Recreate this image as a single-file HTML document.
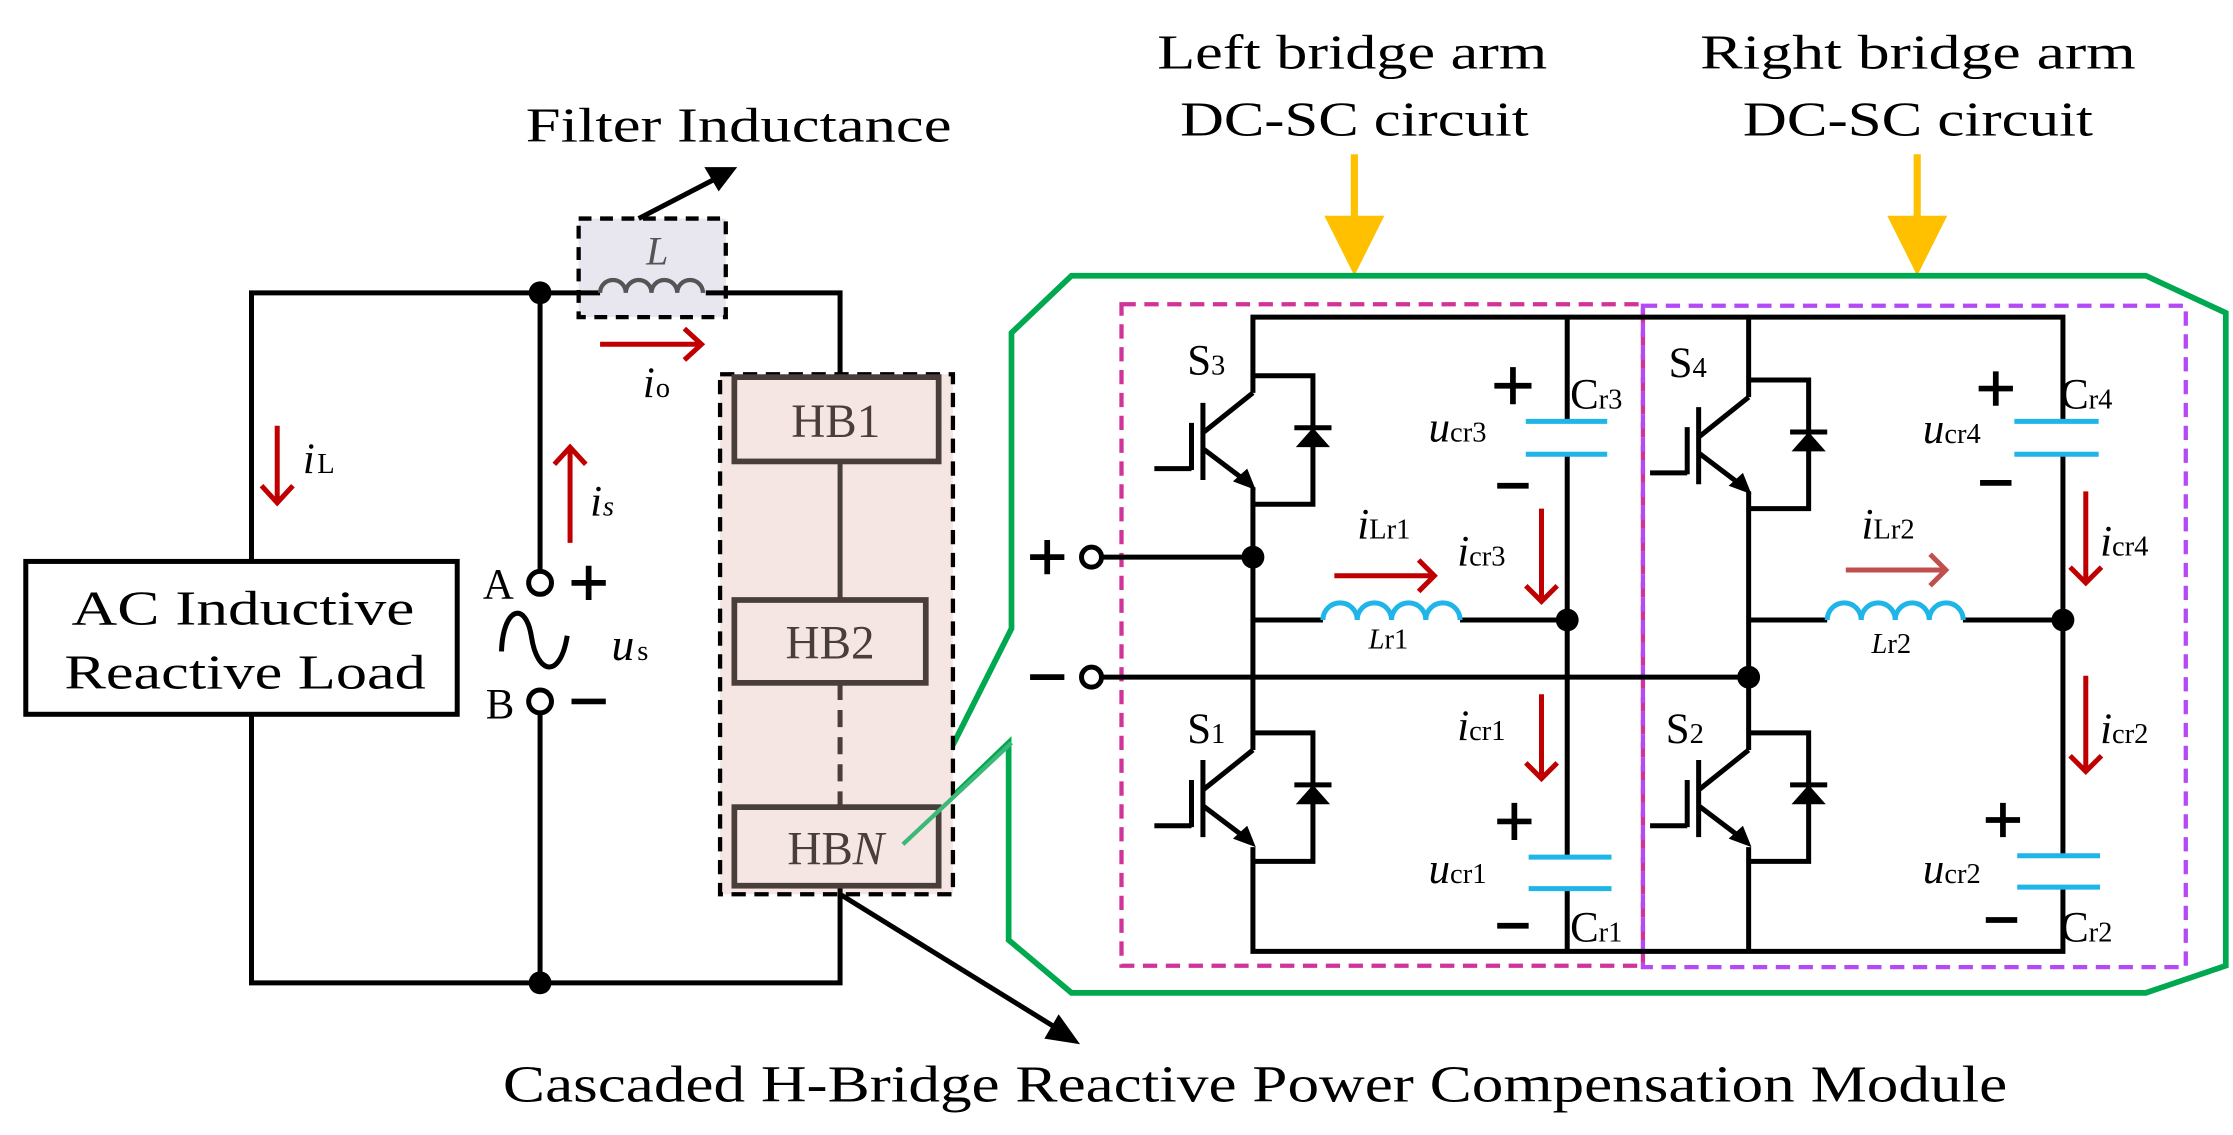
<!DOCTYPE html>
<html><head><meta charset="utf-8"><style>
html,body{margin:0;padding:0;background:#fff;}
svg{display:block;}
text{font-family:"Liberation Serif",serif;}
</style></head><body>
<svg width="2233" height="1135" viewBox="0 0 1563 794.5" xmlns="http://www.w3.org/2000/svg">
<defs>
<g id="igbt">
  <path d="M0,0 L-35,28 M-35,7 V61 M-43,21 V54 M-69,53 H-43 M-35,39 L-2,64" stroke="#000" stroke-width="3.5" fill="none"/>
  <polygon points="2,68 -14,62 -4,53" fill="#000"/>
  <path d="M0,-12 H42 V78 H0" stroke="#000" stroke-width="3.5" fill="none"/>
  <path d="M29,24.4 H55" stroke="#000" stroke-width="3.5"/>
  <polygon points="42,24.4 30,38 54,38" fill="#000"/>
</g>
</defs>

<!-- Titles -->
<text x="810" y="48" font-size="34" textLength="273" lengthAdjust="spacingAndGlyphs">Left bridge arm</text>
<text x="826" y="95" font-size="34" textLength="244" lengthAdjust="spacingAndGlyphs">DC-SC circuit</text>
<text x="1190" y="48" font-size="34" textLength="305" lengthAdjust="spacingAndGlyphs">Right bridge arm</text>
<text x="1220" y="95" font-size="34" textLength="245" lengthAdjust="spacingAndGlyphs">DC-SC circuit</text>
<text x="368" y="99" font-size="34" textLength="298" lengthAdjust="spacingAndGlyphs">Filter Inductance</text>
<text x="352" y="771" font-size="36" textLength="1053" lengthAdjust="spacingAndGlyphs">Cascaded H-Bridge Reactive Power Compensation Module</text>

<!-- yellow arrows -->
<g fill="#ffc000" stroke="#ffc000">
<path d="M948,108 V155" stroke-width="5"/>
<polygon points="927,151 969,151 948,193" stroke="none"/>
<path d="M1342,108 V155" stroke-width="5"/>
<polygon points="1321,151 1363,151 1342,193" stroke="none"/>
</g>

<!-- green module outline -->
<path d="M708,440 V233 L750,193 H1502 L1558,219 V676 L1502,695 H750 L706,658 V520 L632,591 Z" fill="none" stroke="#00a84f" stroke-width="4" stroke-linejoin="miter"/>

<!-- left circuit -->
<rect x="405" y="153" width="103" height="69" fill="#e8e6ef" stroke="#000" stroke-width="3" stroke-dasharray="9,6"/>
<rect x="504" y="262" width="163" height="364" fill="#f5e6e3" stroke="#000" stroke-width="3" stroke-dasharray="10,6"/>
<g stroke="#000" stroke-width="3.5" fill="none">
<path d="M176,393 V205 H420 M494,205 H588 V265"/>
<path d="M176,500 V688 H588 V620"/>
<path d="M378,205 V400 M378,500 V688"/>
<rect x="18" y="393" width="302" height="107" stroke-width="3.5"/>
</g>
<path d="M420,205 a9,9 0 0 1 18,0 a9,9 0 0 1 18,0 a9,9 0 0 1 18,0 a9,9 0 0 1 18,0" fill="none" stroke="#555" stroke-width="3"/>
<text x="460" y="185" font-size="28" font-style="italic" fill="#555" text-anchor="middle">L</text>
<circle cx="378" cy="205" r="8" fill="#000"/>
<circle cx="378" cy="688" r="8" fill="#000"/>
<circle cx="378" cy="408" r="8" fill="#fff" stroke="#000" stroke-width="3.5"/>
<circle cx="378" cy="491" r="8" fill="#fff" stroke="#000" stroke-width="3.5"/>
<text x="338" y="419" font-size="30">A</text>
<text x="340" y="503" font-size="30">B</text>
<path d="M400,408 H424 M412,396 V420 M400,491 H424" stroke="#000" stroke-width="4"/>
<path d="M351,456 C352,425 368,420 372,446 C376,472 392,476 397,445" fill="none" stroke="#000" stroke-width="3.5"/>
<text x="428" y="462" font-size="32" font-style="italic">u</text><text x="446" y="462" font-size="20">s</text>
<text x="50" y="437" font-size="34" textLength="240" lengthAdjust="spacingAndGlyphs">AC Inductive</text>
<text x="45" y="482" font-size="34" textLength="253" lengthAdjust="spacingAndGlyphs">Reactive Load</text>
<!-- filter arrow -->
<path d="M447,153 L503,124" stroke="#000" stroke-width="3.5"/>
<polygon points="516,117 493,117 503,134" fill="#000"/>
<!-- HB boxes -->
<g stroke="#4a3e3b" stroke-width="4" fill="#f5e6e3">
<rect x="514" y="264" width="143" height="59"/>
<rect x="514" y="420" width="134" height="58"/>
<rect x="514" y="565" width="143" height="55"/>
</g>
<path d="M588,323 V420" stroke="#4a3e3b" stroke-width="3.5"/>
<path d="M588,478 V565" stroke="#4a3e3b" stroke-width="3.5" stroke-dasharray="12,7"/>
<g fill="#4a3e3b" font-size="33" text-anchor="middle">
<text x="585" y="306">HB1</text>
<text x="581" y="461">HB2</text>
<text x="585" y="605">HB<tspan font-style="italic">N</tspan></text>
</g>
<path d="M632,591 L708,520" stroke="#3cb878" stroke-width="3"/>
<!-- cascaded arrow -->
<path d="M588,626 L740,720" stroke="#000" stroke-width="3.5"/>
<polygon points="756,731 731,727 741,710" fill="#000"/>
<!-- red arrows left -->
<g stroke="#c00000" stroke-width="3.5" fill="none">
<path d="M194,298 V352 M183,340 L194,352 L205,340"/>
<path d="M399,380 V313 M388,325 L399,313 L410,325"/>
<path d="M420,241 H491 M479,230 L491,241 L479,252"/>
</g>
<text x="212" y="331" font-size="30" font-style="italic">i</text><text x="222" y="331" font-size="20">L</text>
<text x="413" y="361" font-size="30" font-style="italic">i</text><text x="422" y="361" font-size="20" font-style="italic">s</text>
<text x="450" y="278" font-size="30" font-style="italic">i</text><text x="459" y="278" font-size="20">o</text>

<!-- dashed arm boxes -->
<rect x="785" y="213" width="365" height="463" fill="none" stroke="#d0349a" stroke-width="3" stroke-dasharray="10,6"/>
<rect x="1150" y="214" width="380" height="463" fill="none" stroke="#b44af5" stroke-width="3" stroke-dasharray="10,6"/>

<!-- H-bridge -->
<g stroke="#000" stroke-width="3.5" fill="none">
<path d="M877,275 V222 H1444 V295 M1444,318 V599 M1444,621 V666 H877 V593"/>
<path d="M877,341 V525"/>
<path d="M1224,222 V278 M1224,344 V525 M1224,593 V666"/>
<path d="M1097,222 V295 M1097,318 V600 M1097,622 V666"/>
<path d="M764,390 H877 M764,474 H1224"/>
<path d="M877,434 H926 M1022,434 H1097 M1224,434 H1279 M1374,434 H1444"/>
</g>
<use href="#igbt" x="877" y="275"/>
<use href="#igbt" x="877" y="525"/>
<use href="#igbt" x="1224" y="278"/>
<use href="#igbt" x="1224" y="525"/>
<circle cx="877" cy="390" r="8" fill="#000"/>
<circle cx="1097" cy="434" r="8" fill="#000"/>
<circle cx="1224" cy="474" r="8" fill="#000"/>
<circle cx="1444" cy="434" r="8" fill="#000"/>
<circle cx="764" cy="390" r="7" fill="#fff" stroke="#000" stroke-width="3.5"/>
<circle cx="764" cy="474" r="7" fill="#fff" stroke="#000" stroke-width="3.5"/>
<path d="M721,390 H745 M733,378 V402 M721,474 H745" stroke="#000" stroke-width="4"/>
<!-- inductors -->
<g stroke="#1fb5e8" stroke-width="3.5" fill="none">
<path d="M926,434 a12,12 0 0 1 24,0 a12,12 0 0 1 24,0 a12,12 0 0 1 24,0 a12,12 0 0 1 24,0"/>
<path d="M1279,434 a11.9,12 0 0 1 23.8,0 a11.9,12 0 0 1 23.8,0 a11.9,12 0 0 1 23.8,0 a11.9,12 0 0 1 23.8,0"/>
<path d="M1068,295 H1125 M1068,318 H1125 M1070,600 H1128 M1070,622 H1128"/>
<path d="M1410,295 H1469 M1410,318 H1469 M1412,599 H1470 M1412,621 H1470"/>
</g>
<!-- labels -->
<g font-size="30">
<text x="831" y="262">S<tspan font-size="20">3</tspan></text>
<text x="831" y="520">S<tspan font-size="20">1</tspan></text>
<text x="1168" y="264">S<tspan font-size="20">4</tspan></text>
<text x="1166" y="520">S<tspan font-size="20">2</tspan></text>
<text x="1099" y="286">C<tspan font-size="20">r3</tspan></text>
<text x="1099" y="659">C<tspan font-size="20">r1</tspan></text>
<text x="1442" y="286">C<tspan font-size="20">r4</tspan></text>
<text x="1442" y="659">C<tspan font-size="20">r2</tspan></text>
<text x="1000" y="309" font-style="italic">u<tspan font-size="20" font-style="normal">cr3</tspan></text>
<text x="1000" y="618" font-style="italic">u<tspan font-size="20" font-style="normal">cr1</tspan></text>
<text x="1346" y="310" font-style="italic">u<tspan font-size="20" font-style="normal">cr4</tspan></text>
<text x="1346" y="618" font-style="italic">u<tspan font-size="20" font-style="normal">cr2</tspan></text>
<text x="950" y="377" font-style="italic">i<tspan font-size="20" font-style="normal">Lr1</tspan></text>
<text x="1303" y="377" font-style="italic">i<tspan font-size="20" font-style="normal">Lr2</tspan></text>
<text x="1020" y="396" font-style="italic">i<tspan font-size="20" font-style="normal">cr3</tspan></text>
<text x="1020" y="518" font-style="italic">i<tspan font-size="20" font-style="normal">cr1</tspan></text>
<text x="1470" y="389" font-style="italic">i<tspan font-size="20" font-style="normal">cr4</tspan></text>
<text x="1470" y="520" font-style="italic">i<tspan font-size="20" font-style="normal">cr2</tspan></text>
</g>
<text x="958" y="454" font-size="20" font-style="italic">L<tspan font-style="normal">r1</tspan></text>
<text x="1310" y="457" font-size="20" font-style="italic">L<tspan font-style="normal">r2</tspan></text>
<path d="M1046,270 H1072 M1059,257 V283 M1048,340 H1070 M1048,575 H1072 M1060,562 V588 M1048,648 H1070" stroke="#000" stroke-width="4"/>
<path d="M1385,272 H1409 M1397,260 V284 M1386,338 H1408 M1390,574 H1414 M1402,562 V586 M1390,644 H1412" stroke="#000" stroke-width="4"/>
<g stroke="#c00000" stroke-width="3.5" fill="none">
<path d="M934,403 H1004 M993,392 L1004,403 L993,414"/>
<path d="M1079,356 V421 M1068,410 L1079,421 L1090,410"/>
<path d="M1079,486 V545 M1068,534 L1079,545 L1090,534"/>
<path d="M1460,344 V408 M1449,397 L1460,408 L1471,397"/>
<path d="M1460,473 V540 M1449,529 L1460,540 L1471,529"/>
</g>
<path d="M1292,399 H1362 M1351,388 L1362,399 L1351,410" stroke="#c0504d" stroke-width="3.5" fill="none"/>
</svg>
</body></html>
